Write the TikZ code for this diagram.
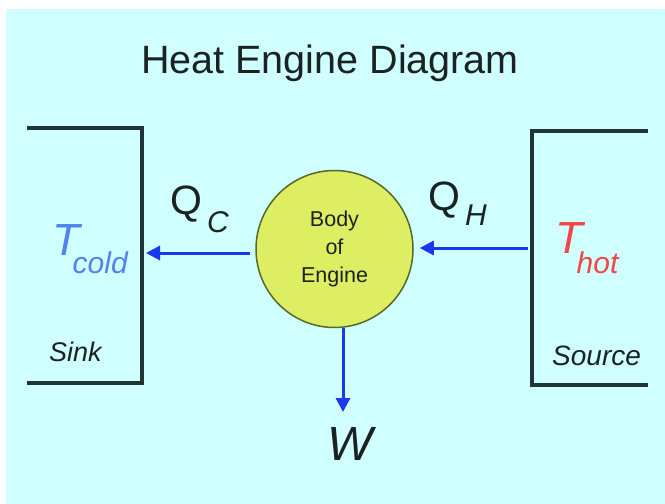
\documentclass[tikz,border=0pt]{standalone}
\usepackage{fontspec}
\setmainfont{Liberation Sans}
\usetikzlibrary{arrows.meta}
\definecolor{bgc}{HTML}{D0FFFF}
\definecolor{ink}{HTML}{1A2222}
\definecolor{wall}{HTML}{1F3535}
\definecolor{flowc}{RGB}{25,55,235}
\definecolor{coldc}{RGB}{80,130,240}
\definecolor{hotc}{RGB}{240,70,70}
\definecolor{bodyfill}{RGB}{222,238,98}
\definecolor{bodyedge}{RGB}{85,105,40}
\tikzset{
  wallline/.style={draw=wall, line width=3.3pt},
  flow/.style={draw=flowc, line width=3pt, -{Triangle[length=14pt,width=14pt]}},
  lbl/.style={inner sep=0pt, text=ink},
  engine/.style={circle, fill=bodyfill, draw=bodyedge, line width=1.5pt, minimum size=157pt,
    inner sep=0pt, align=center, text=ink, font=\fontsize{21.5}{28}\selectfont}
}
\begin{document}
\begin{tikzpicture}[x=1pt,y=-1pt]
\useasboundingbox (0,0) rectangle (665,504);
\fill[bgc] (6,9) rectangle (665,504);

\node[lbl, anchor=base, font=\fontsize{39.5}{40}\selectfont] (title) at (330,73) {Heat Engine Diagram};

% reservoirs
\draw[wallline] (27,128) -- (142,128) -- (142,383) -- (27,383);
\draw[wallline] (648,131) -- (532,131) -- (532,385) -- (648,385);

\node[lbl, anchor=base west, font=\fontsize{27}{27}\selectfont\itshape] (sink) at (49,361) {Sink};
\node[lbl, anchor=base west, font=\fontsize{28}{28}\selectfont\itshape] (source) at (552,365) {Source};

\node[lbl, anchor=base west, text=coldc] (tcold) at (52,255)
  {\fontsize{45}{45}\selectfont\itshape T\kern-7pt\raisebox{-18pt}{\fontsize{30}{30}\selectfont cold}};
\node[lbl, anchor=base west, text=hotc] (thot) at (555,253)
  {\fontsize{45}{45}\selectfont\itshape T\kern-6pt\raisebox{-20pt}{\fontsize{30}{30}\selectfont hot}};

\node[lbl, anchor=base west] (qc) at (170,214)
  {\fontsize{41}{41}\selectfont Q\kern5pt\raisebox{-18pt}{\fontsize{30}{30}\selectfont\itshape C}};
\node[lbl, anchor=base west] (qh) at (428,210)
  {\fontsize{41}{41}\selectfont Q\kern5pt\raisebox{-15pt}{\fontsize{30}{30}\selectfont\itshape H}};

\node[engine] (engine) at (334.5,249) {Body\\of\\Engine};

\node[lbl, anchor=base, font=\fontsize{48}{48}\selectfont\itshape] (w) at (350,460) {W};

\coordinate (sinkin) at (146,253);
\coordinate (sourceout) at (528,248);
\coordinate (work) at (343,412);

\draw[flow] ([shift={(-5,4)}]engine.west) -- (sinkin);
\draw[flow] (sourceout) -- ([shift={(6,-1)}]engine.east);
\draw[flow] ([xshift=8.5pt]engine.south) -- (work);
\end{tikzpicture}
\end{document}
